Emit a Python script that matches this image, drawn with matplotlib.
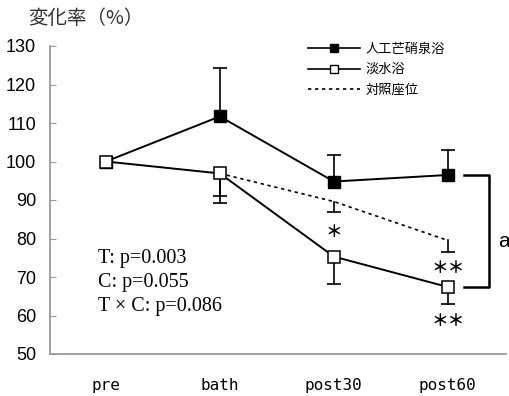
import matplotlib.pyplot as plt
from matplotlib.lines import Line2D

plt.rcParams['font.family'] = ['Noto Sans CJK JP', 'DejaVu Sans']

# --- データ ---
conditions = ['pre', 'bath', 'post30', 'post60']
bath_salt = [100, 111.7, 94.8, 96.5]        # 人工芒硝泉浴
bath_salt_err = [0, 12.6, 6.8, 6.5]         # 上側のみ
fresh = [100, 96.9, 75.3, 67.4]             # 淡水浴
fresh_err = [0, 5.8, 7.2, 4.3]              # 下側のみ
control = [100, 96.9, 89.6, 79.5]           # 対照座位
control_err = [0, 7.8, 2.6, 3.1]            # 下側のみ

stats_lines = ['T: p=0.003', 'C: p=0.055', 'T × C: p=0.086']

x = list(range(len(conditions)))

fig = plt.figure(figsize=(5.09, 3.96), dpi=100)
ax = fig.add_axes([50 / 509, 42 / 396, 456 / 509, 308 / 396])


def one_sided_err(xs, ys, errs, sign, z):
    # 片側だけのエラーバー（先端にだけキャップ）
    for xi, yi, ei in zip(xs, ys, errs):
        if ei == 0:
            continue
        end = yi + sign * ei
        ax.plot([xi, xi], [yi, end], color='black', lw=1.2, zorder=z)
        ax.plot([xi], [end], marker='_', ms=10, mew=1.2, color='black', zorder=z)


# 対照座位（点線）
ax.plot(x[1:], control[1:], color='black', lw=1.2, ls=(0, (2, 2.2)), zorder=2)
one_sided_err(x, control, control_err, -1, 2)

# 人工芒硝泉浴（黒四角, 上向き）
one_sided_err(x, bath_salt, bath_salt_err, 1, 3)
ax.plot(x, bath_salt, color='black', lw=1.4, marker='s', ms=8.5,
        mfc='black', mec='black', zorder=4)

# 淡水浴（白抜き四角, 下向き）
one_sided_err(x, fresh, fresh_err, -1, 3)
ax.plot(x, fresh, color='black', lw=1.4, marker='s', ms=8.5,
        mfc='white', mec='black', mew=1.1, zorder=5)

ax.set_xlim(-0.49, 3.51)
ax.set_ylim(50, 130)
ax.set_yticks(range(50, 131, 10))
ax.set_xticks(x)
ax.set_xticklabels(conditions, family='DejaVu Sans Mono', fontsize=11.5)
ax.tick_params(axis='x', length=0, pad=17)
ax.tick_params(axis='y', direction='in', length=4, color='#999999', pad=10)
for lab in ax.get_yticklabels():
    lab.set_family('Liberation Sans')
    lab.set_fontsize(13)

for side in ['top', 'right']:
    ax.spines[side].set_visible(False)
for side in ['left', 'bottom']:
    ax.spines[side].set_color('#9a9a9a')
    ax.spines[side].set_linewidth(1.3)

# 有意差の記号
ax.text(x[2], fresh[2] + 6.5, '＊', ha='center', va='center', fontsize=12, weight='bold')
ax.text(x[3], control[3] - control_err[3] - 4, '＊＊', ha='center', va='center',
        fontsize=12, weight='bold')
ax.text(x[3], fresh[3] - fresh_err[3] - 4.5, '＊＊', ha='center', va='center',
        fontsize=12, weight='bold')

# 群間差のブラケット
bx0, bx1 = 3.14, 3.36
ax.plot([bx0, bx1, bx1, bx0], [bath_salt[3], bath_salt[3], fresh[3], fresh[3]],
        color='black', lw=1.8, clip_on=False)
ax.text(3.44, (bath_salt[3] + fresh[3]) / 2 - 2.8, 'a', ha='left', va='center',
        family='Liberation Sans', fontsize=15)

# 分散分析の結果
for i, s in enumerate(stats_lines):
    ax.text(0.105, 0.31 - i * 0.078, s, transform=ax.transAxes, ha='left', va='center',
            family=['Liberation Serif', 'Noto Sans CJK JP'], fontsize=14.5)

# 凡例
handles = [
    Line2D([], [], color='black', lw=1.2, marker='s', ms=5.5, mfc='black'),
    Line2D([], [], color='black', lw=1.2, marker='s', ms=5.5, mfc='white'),
    Line2D([], [], color='black', lw=1.2, ls=(0, (2, 2.2))),
]
labels = ['人工芒硝泉浴', '淡水浴', '対照座位']
ax.legend(handles, labels, loc='upper left', bbox_to_anchor=(0.565, 1.01),
          frameon=False, fontsize=9.5, handlelength=4, handletextpad=0.4,
          labelspacing=0.55, borderpad=0, borderaxespad=0)

fig.text(28 / 509, 1 - 18 / 396, '変化率（%）', ha='left', va='center',
         fontsize=14, color='#333333')

fig.savefig('out.png', dpi=100)
